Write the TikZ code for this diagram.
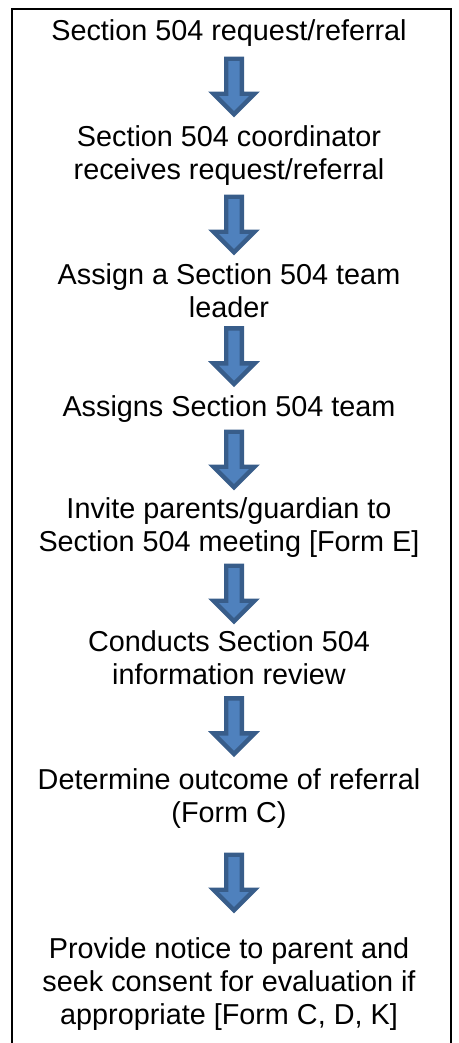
\documentclass[tikz,border=0pt]{standalone}
\usepackage{fontspec}
\setmainfont{Liberation Sans}
\usepackage{tikz}
\definecolor{arrfill}{RGB}{79,129,189}
\definecolor{arrline}{RGB}{56,93,138}
\tikzset{
  blockarr/.pic={
    \draw[arrline,fill=arrfill,line width=2.2pt,line join=miter]
      (-7.8,-27.8) -- (7.8,-27.8) -- (7.8,7.2) -- (20.5,7.2) -- (0,27.7)
      -- (-20.5,7.2) -- (-7.8,7.2) -- cycle;
  }
}
\begin{document}
\begin{tikzpicture}[x=0.5pt,y=-0.5pt,
  stepbox/.style={inner sep=0pt,align=center,anchor=base,
    font=\fontsize{14.4}{16.5}\selectfont},
  arr/.style={pos=.5,xshift=2.5pt}]
\useasboundingbox (0,0) rectangle (459,1043);
\draw[line width=0.85pt] (12,1043) -- (12,9) -- (451,9) -- (451,1043);
\node[stepbox] (req) at (229,41) {Section 504 request/referral};
\node[stepbox] (coord) at (229,180) {Section 504 coordinator\\receives request/referral};
\node[stepbox] (lead) at (229,317) {Assign a Section 504 team\\leader};
\node[stepbox] (team) at (229,416) {Assigns Section 504 team};
\node[stepbox] (invite) at (229,551) {Invite parents/guardian to\\Section 504 meeting [Form E]};
\node[stepbox] (review) at (229,684) {Conducts Section 504\\information review};
\node[stepbox] (outcome) at (229,822) {Determine outcome of referral\\(Form C)};
\node[stepbox] (notice) at (229,1024) {Provide notice to parent and\\seek consent for evaluation if\\appropriate [Form C, D, K]};
\path (req.south) -- (coord.north) pic[arr] {blockarr};
\path (coord.south) -- (lead.north) pic[arr] {blockarr};
\path (lead.south) -- (team.north) pic[arr] {blockarr};
\path (team.south) -- (invite.north) pic[arr] {blockarr};
\path (invite.south) -- (review.north) pic[arr] {blockarr};
\path (review.south) -- (outcome.north) pic[arr] {blockarr};
\path (outcome.south) -- (notice.north) pic[arr] {blockarr};
\end{tikzpicture}
\end{document}
